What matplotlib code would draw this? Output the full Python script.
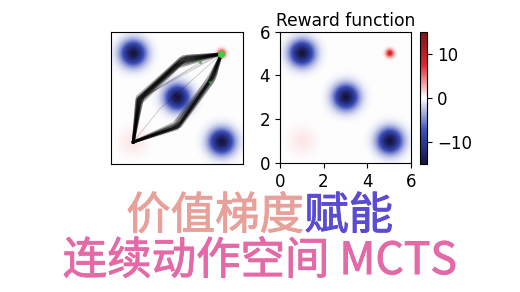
import numpy as np
import matplotlib
matplotlib.use('Agg')
import matplotlib.pyplot as plt
import matplotlib.patheffects as pe
from matplotlib.colors import LinearSegmentedColormap

# reward terms: (x, y, amplitude, width)
obstacles = [(1.0, 5.0, -15.0, 0.39), (3.0, 3.0, -15.0, 0.39), (5.0, 1.0, -15.0, 0.39)]
goal = (5.0, 5.0, 9.0, 0.13)
start_bump = (1.0, 1.0, 0.8, 0.45)

# sampled trajectories (waypoints)
paths_upper = [
    [(1, 1), (1.20, 2.95), (3.30, 4.82), (5, 5)],
    [(1, 1), (1.25, 3.00), (3.20, 4.75), (5, 5)],
    [(1, 1), (1.30, 2.90), (3.10, 4.65), (5, 5)],
    [(1, 1), (1.22, 2.85), (3.35, 4.70), (5, 5)],
    [(1, 1), (1.35, 3.05), (3.00, 4.55), (5, 5)],
    [(1, 1), (1.28, 2.80), (2.90, 4.45), (5, 5)],
    [(1, 1), (1.18, 3.05), (3.25, 4.88), (5, 5)],
    [(1, 1), (1.40, 2.95), (3.40, 4.75), (5, 5)],
    [(1, 1), (1.24, 2.98), (3.15, 4.80), (5, 5)],
    [(1, 1), (1.45, 3.10), (3.45, 4.90), (5, 5)],
    [(1, 1), (1.32, 2.75), (3.05, 4.40), (5, 5)],
    [(1, 1), (1.15, 2.90), (3.20, 4.60), (5, 5)],
]
paths_lower = [
    [(1, 1), (3.05, 1.70), (4.60, 3.95), (5, 5)],
    [(1, 1), (2.95, 1.65), (4.55, 3.85), (5, 5)],
    [(1, 1), (3.10, 1.80), (4.65, 4.05), (5, 5)],
    [(1, 1), (2.90, 1.75), (4.45, 3.80), (5, 5)],
    [(1, 1), (3.00, 1.60), (4.70, 3.90), (5, 5)],
    [(1, 1), (2.85, 1.85), (4.50, 4.00), (5, 5)],
    [(1, 1), (3.15, 1.72), (4.62, 3.75), (5, 5)],
    [(1, 1), (3.02, 1.68), (4.58, 3.92), (5, 5)],
    [(1, 1), (3.20, 1.90), (4.75, 4.10), (5, 5)],
    [(1, 1), (2.80, 1.60), (4.40, 3.70), (5, 5)],
]
paths_inner = [
    [(1, 1), (1.30, 2.95), (5, 5)],
    [(1, 1), (1.25, 2.90), (4.0, 4.6), (5, 5)],
    [(1, 1), (1.35, 3.00), (3.6, 4.3), (5, 5)],
    [(1, 1), (3.00, 1.70), (5, 5)],
    [(1, 1), (3.05, 1.75), (4.3, 3.6), (5, 5)],
    [(1, 1), (2.2, 2.5), (5, 5)],
]
nodes = [(4.02, 4.64), (4.47, 3.73)]

ticks = [0, 2, 4, 6]
cbar_ticks = [10, 0, -10]

line1a = '价值梯度'
line1b = '赋能'
line2 = '连续动作空间 MCTS'

# seismic-like map, a little softer
cmap = LinearSegmentedColormap.from_list(
    'soft_seismic', ['#151545', '#3a4cb8', '#ffffff', '#e3262b', '#7a1418'])

xs = np.linspace(0, 6, 300)
X, Y = np.meshgrid(xs, xs)
R = np.zeros_like(X)
for cx, cy, a, s in obstacles + [goal, start_bump]:
    R += a * np.exp(-((X - cx) ** 2 + (Y - cy) ** 2) / (2 * s ** 2))

fig = plt.figure(figsize=(5.2, 2.92), dpi=100)
fig.patch.set_facecolor('white')

# left: trajectories over reward
ax1 = fig.add_axes([0.213, 0.438, 0.256, 0.453])
ax1.imshow(R, origin='lower', extent=[0, 6, 0, 6], cmap=cmap, vmin=-15, vmax=15,
           interpolation='bilinear')
for p in paths_upper + paths_lower:
    p = np.array(p)
    ax1.plot(p[:, 0], p[:, 1], color='black', lw=2.0, alpha=0.32)
for p in paths_inner:
    p = np.array(p)
    ax1.plot(p[:, 0], p[:, 1], color='black', lw=0.7, alpha=0.18)
nd = np.array(nodes)
ax1.plot(nd[:, 0], nd[:, 1], 'o', color='#33aa33', ms=1.5, alpha=0.6)
ax1.plot(goal[0], goal[1], 'o', color='#44cc44', ms=4)
ax1.set_xlim(0, 6)
ax1.set_ylim(0, 6)
ax1.set_xticks([])
ax1.set_yticks([])

# right: reward function
ax2 = fig.add_axes([0.537, 0.441, 0.2546, 0.4507])
im = ax2.imshow(R, origin='lower', extent=[0, 6, 0, 6], cmap=cmap, vmin=-15, vmax=15,
                interpolation='bilinear')
ax2.set_xticks(ticks)
ax2.set_yticks(ticks)
ax2.tick_params(labelsize=12)
ax2.set_title('Reward function', fontsize=12.3, pad=4)

cax = fig.add_axes([0.8077, 0.438, 0.014, 0.453])
cb = fig.colorbar(im, cax=cax)
cb.set_ticks(cbar_ticks)
cb.ax.tick_params(labelsize=12)

# headline (regular weight, thickened a little with a stroke)
cjk = ['Noto Sans CJK SC', 'DejaVu Sans']
for txt, x, y, ha, col in [(line1a, 0.585, 0.26, 'right', '#e8a19a'),
                           (line1b, 0.585, 0.26, 'left', '#5a4bd3'),
                           (line2, 0.5, 0.106, 'center', '#e36aa6')]:
    fig.text(x, y, txt, ha=ha, va='center', fontsize=32, family=cjk, color=col,
             path_effects=[pe.withStroke(linewidth=0.7, foreground=col)])

fig.savefig('out.png', dpi=100, facecolor='white')
